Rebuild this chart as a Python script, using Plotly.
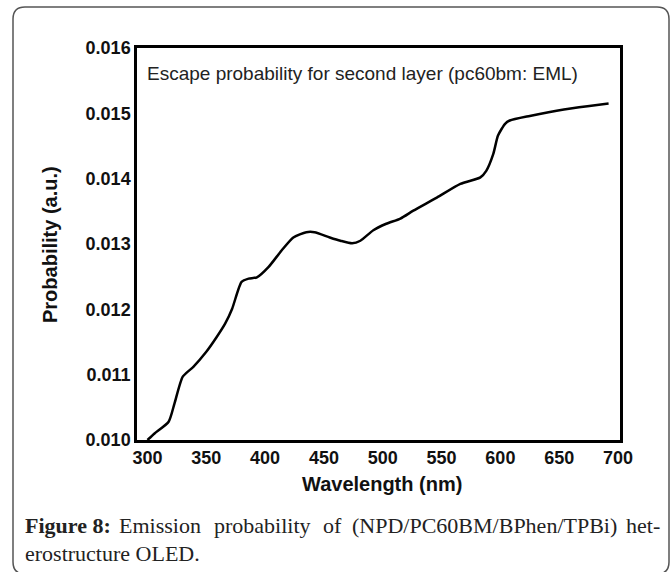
import plotly.graph_objects as go

# ---- data ----
wavelength = [300, 306, 318, 323, 330, 339, 350, 359, 366, 372, 380, 386, 393, 403,
              414, 424, 435, 442, 455, 464, 474, 481, 492, 503, 515, 526, 546, 566,
              583, 588, 594, 598, 604, 608, 625, 654, 674, 692]
probability = [0.01000, 0.01010, 0.01028, 0.01056, 0.01097, 0.01112, 0.01135, 0.01158,
               0.01178, 0.01201, 0.01242, 0.01247, 0.01249, 0.01265, 0.01290, 0.01310,
               0.01318, 0.01318, 0.01310, 0.01305, 0.01301, 0.01305, 0.01321, 0.01331,
               0.01339, 0.01351, 0.01371, 0.01392, 0.01402, 0.01412, 0.01438, 0.01466,
               0.01484, 0.01489, 0.01496, 0.01506, 0.01511, 0.01515]
x_ticks = [300, 350, 400, 450, 500, 550, 600, 650, 700]
y_ticks = [0.010, 0.011, 0.012, 0.013, 0.014, 0.015, 0.016]
chart_note = "Escape probability for second layer (pc60bm: EML)"
x_title = "Wavelength (nm)"
y_title = "Probability (a.u.)"
caption_bold = "Figure 8:"
caption_words = ["Emission", "probability", "of", "(NPD/PC60BM/BPhen/TPBi)", "het-"]
caption_line2 = "erostructure OLED."

W, H = 671, 572
L, R, T, B = 137, 620, 48, 440  # plot area in pixels


def px(xp):
    return (xp - L) / (R - L)


def py(yp):
    return (B - yp) / (B - T)


fig = go.Figure()
fig.add_trace(go.Scatter(
    x=wavelength, y=probability, mode="lines",
    line=dict(color="black", width=2.5, shape="spline", smoothing=0.6),
    showlegend=False, hoverinfo="skip"))

tickfont = dict(family="Arial, Liberation Sans, sans-serif", size=18, color="#111", weight="bold")
fig.update_layout(
    width=W, height=H,
    margin=dict(l=L, r=W - R, t=T, b=H - B),
    paper_bgcolor="white", plot_bgcolor="white",
    xaxis=dict(range=[291.1, 701.7], tickvals=x_ticks, showgrid=False, zeroline=False,
               showline=True, linecolor="black", linewidth=2.5, mirror=True,
               ticks="", tickfont=tickfont, fixedrange=True),
    yaxis=dict(range=[0.010, 0.016], tickvals=y_ticks, tickformat=".3f", showgrid=False,
               zeroline=False, showline=True, linecolor="black", linewidth=2.5, mirror=True,
               ticks="", tickfont=tickfont, fixedrange=True),
)

ann = []
# in-plot note
ann.append(dict(x=px(145), y=py(73), xref="paper", yref="paper", xanchor="left", yanchor="middle",
                text=chart_note, showarrow=False,
                font=dict(family="Arial, Liberation Sans, sans-serif", size=19, color="#222")))
# axis titles
ann.append(dict(x=px(382), y=py(484), xref="paper", yref="paper", xanchor="center", yanchor="middle",
                text=x_title, showarrow=False,
                font=dict(family="Arial, Liberation Sans, sans-serif", size=20, color="#111", weight="bold")))
ann.append(dict(x=px(50), y=py(245), xref="paper", yref="paper", xanchor="center", yanchor="middle",
                text=y_title, showarrow=False, textangle=-90,
                font=dict(family="Arial, Liberation Sans, sans-serif", size=20, color="#111", weight="bold")))
# caption (first line laid out justified, word by word)
capfont = dict(family="Liberation Serif, Times New Roman, serif", size=22, color="#222")
ann.append(dict(x=px(23), y=py(525), xref="paper", yref="paper", xanchor="left", yanchor="middle",
                text="<b>" + caption_bold + "</b>", showarrow=False, font=capfont))
word_centers = [160, 262, 332, 484, 643]
for w, cx in zip(caption_words, word_centers):
    ann.append(dict(x=px(cx), y=py(525), xref="paper", yref="paper", xanchor="center", yanchor="middle",
                    text=w, showarrow=False, font=capfont))
ann.append(dict(x=px(23), y=py(553), xref="paper", yref="paper", xanchor="left", yanchor="middle",
                text=caption_line2, showarrow=False, font=capfont))
fig.update_layout(annotations=ann)

# rounded outer frame
x0, x1, y0, y1, r = 13, 669, 7, 574, 12
path = (f"M {px(x0 + r)},{py(y0)} L {px(x1 - r)},{py(y0)} Q {px(x1)},{py(y0)} {px(x1)},{py(y0 + r)} "
        f"L {px(x1)},{py(y1 - r)} Q {px(x1)},{py(y1)} {px(x1 - r)},{py(y1)} "
        f"L {px(x0 + r)},{py(y1)} Q {px(x0)},{py(y1)} {px(x0)},{py(y1 - r)} "
        f"L {px(x0)},{py(y0 + r)} Q {px(x0)},{py(y0)} {px(x0 + r)},{py(y0)} Z")
fig.add_shape(type="path", path=path, xref="paper", yref="paper",
              line=dict(color="#555", width=1.5), layer="below")

fig.write_html("out.html")
